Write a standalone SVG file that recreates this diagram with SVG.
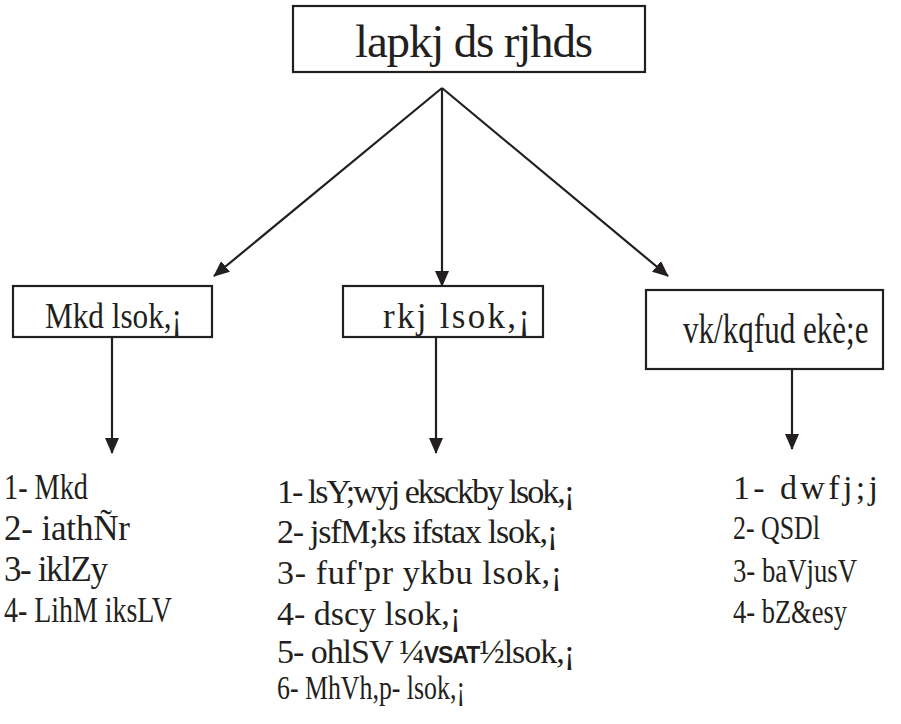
<svg xmlns="http://www.w3.org/2000/svg" width="901" height="724" viewBox="0 0 901 724">
<defs>
<style>
.box{fill:#fff;stroke:#231f20;stroke-width:2.2}
.t{font-family:"Liberation Serif","DejaVu Serif","Times New Roman",serif;fill:#231f20}
.ln{stroke:#231f20;stroke-width:2.2;fill:none}
.sans{font-family:"Liberation Sans","DejaVu Sans",Arial,sans-serif;font-weight:bold}
</style>
<marker id="ah" markerUnits="userSpaceOnUse" markerWidth="16" markerHeight="14" refX="15" refY="7" orient="auto">
<path d="M0,0 L16,7 L0,14 Z" fill="#231f20"/>
</marker>
</defs>
<rect width="901" height="724" fill="#fff"/>
<g id="connectors">
<line class="ln" x1="442" y1="88" x2="214" y2="276" marker-end="url(#ah)"/>
<line class="ln" x1="442" y1="88" x2="442" y2="286" marker-end="url(#ah)"/>
<line class="ln" x1="442" y1="88" x2="668" y2="276" marker-end="url(#ah)"/>
<line class="ln" x1="112" y1="337" x2="112" y2="453" marker-end="url(#ah)"/>
<line class="ln" x1="436" y1="337" x2="436" y2="453" marker-end="url(#ah)"/>
<line class="ln" x1="792" y1="369" x2="792" y2="449" marker-end="url(#ah)"/>
</g>
<g id="root">
<rect class="box" x="293" y="6" width="352" height="66"/>
<text class="t" x="355" y="57" font-size="47" textLength="238" lengthAdjust="spacing">lapkj ds rjhds</text>
</g>
<g id="dak">
<rect class="box" x="13" y="286" width="199" height="51"/>
<text class="t" x="45" y="328" font-size="35" textLength="137" lengthAdjust="spacingAndGlyphs">Mkd lsok,¡</text>
</g>
<g id="taar">
<rect class="box" x="343" y="286" width="200" height="51"/>
<text class="t" x="383" y="328" font-size="35" textLength="147" lengthAdjust="spacing">rkj lsok,¡</text>
</g>
<g id="adhunik">
<rect class="box" x="646" y="290" width="237" height="79"/>
<text class="t" transform="translate(683 343) scale(0.74 1)" x="0" y="0" font-size="42">vk/kqfud ekè;e</text>
</g>
<g id="dak-list">
<text class="t" x="4" y="499" font-size="35" textLength="84" lengthAdjust="spacingAndGlyphs">1- Mkd</text>
<text class="t" x="4" y="540" font-size="35" textLength="126" lengthAdjust="spacing">2- iathÑr</text>
<text class="t" x="4" y="581" font-size="35" textLength="104" lengthAdjust="spacing">3- iklZy</text>
<text class="t" x="4" y="622" font-size="35" textLength="168" lengthAdjust="spacingAndGlyphs">4- LihM iksLV</text>
</g>
<g id="taar-list">
<text class="t" x="277" y="503" font-size="34" textLength="298" lengthAdjust="spacing">1- lsY;wyj eksckby lsok,¡</text>
<text class="t" x="277" y="543" font-size="34" textLength="281" lengthAdjust="spacing">2- jsfM;ks ifstax lsok,¡</text>
<text class="t" x="277" y="584" font-size="34" textLength="285" lengthAdjust="spacing">3- fuf'pr ykbu lsok,¡</text>
<text class="t" x="277" y="625" font-size="34" textLength="184" lengthAdjust="spacing">4- dscy lsok,¡</text>
<text class="t" x="277" y="663" font-size="34" textLength="298" lengthAdjust="spacing">5- ohlSV ¼<tspan class="sans" font-size="23">VSAT</tspan>½lsok,¡</text>
<text class="t" x="277" y="699" font-size="34" textLength="188" lengthAdjust="spacingAndGlyphs">6- MhVh,p- lsok,¡</text>
</g>
<g id="adhunik-list">
<text class="t" x="733" y="499" font-size="34" textLength="145" lengthAdjust="spacing">1- dwfj;j</text>
<text class="t" x="733" y="539" font-size="34" textLength="87" lengthAdjust="spacingAndGlyphs">2- QSDl</text>
<text class="t" x="733" y="582" font-size="34" textLength="124" lengthAdjust="spacingAndGlyphs">3- baVjusV</text>
<text class="t" x="733" y="623" font-size="34" textLength="114" lengthAdjust="spacingAndGlyphs">4- bZ&amp;esy</text>
</g>
</svg>
